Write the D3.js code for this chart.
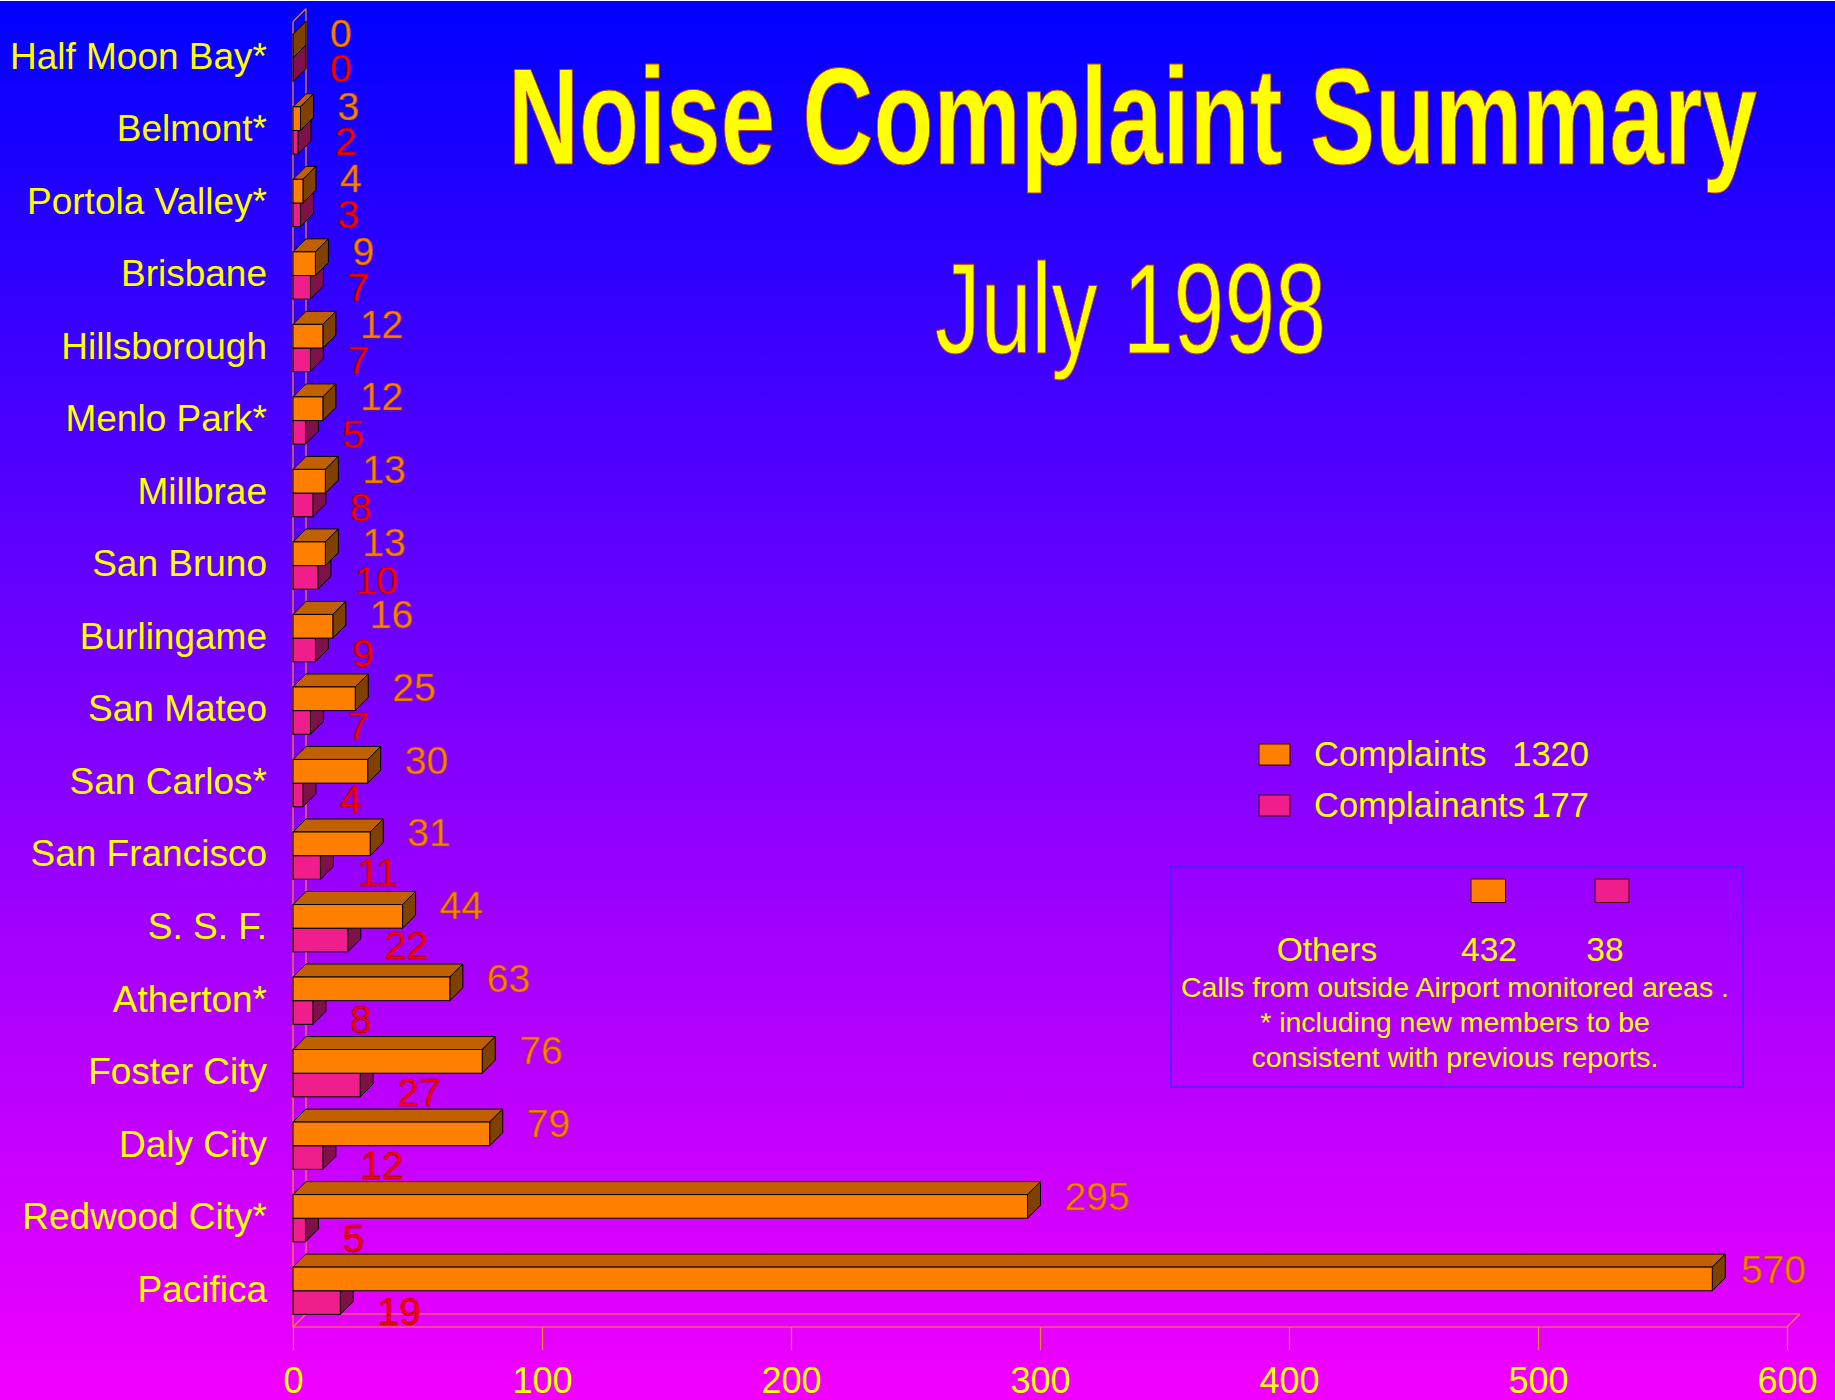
<!DOCTYPE html>
<html>
<head>
<meta charset="utf-8">
<title>Noise Complaint Summary</title>
<script src="https://d3js.org/d3.v7.min.js"></script>
<style>
  body { margin: 0; background: #0000ff; }
  svg { display: block; font-family: "Liberation Sans", Arial, sans-serif; }
</style>
</head>
<body>
<div id="chart"></div>
<script>
// data, top to bottom
var cities = ["Half Moon Bay*", "Belmont*", "Portola Valley*", "Brisbane", "Hillsborough",
  "Menlo Park*", "Millbrae", "San Bruno", "Burlingame", "San Mateo", "San Carlos*",
  "San Francisco", "S. S. F.", "Atherton*", "Foster City", "Daly City", "Redwood City*", "Pacifica"];
var complaints   = [0, 3, 4, 9, 12, 12, 13, 13, 16, 25, 30, 31, 44, 63, 76, 79, 295, 570];
var complainants = [0, 2, 3, 7, 7, 5, 8, 10, 9, 7, 4, 11, 22, 8, 27, 12, 5, 19];
var xTicks = [0, 100, 200, 300, 400, 500, 600];

var legendNames  = ["Complaints", "Complainants"];
var legendTotals = [1320, 177];
var othersRow    = ["Others", "432", "38"];
var notes = ["Calls from outside Airport monitored areas .",
             "* including new members to be",
             "consistent with previous reports."];

var width = 1835, height = 1400;
var depth = 13;

var svg = d3.select("#chart").append("svg")
  .attr("width", width)
  .attr("height", height);

// background gradient blue -> magenta
var grad = svg.append("defs").append("linearGradient")
  .attr("id", "bg").attr("x1", 0).attr("y1", 0).attr("x2", 0).attr("y2", 1);
grad.append("stop").attr("offset", "0%").attr("stop-color", "#0000ff");
grad.append("stop").attr("offset", "100%").attr("stop-color", "#f200ff");
svg.append("rect").attr("width", width).attr("height", height).attr("fill", "url(#bg)");
svg.append("line").attr("x1", 0).attr("x2", width).attr("y1", 0.5).attr("y2", 0.5)
  .attr("stroke", "#ffffff").attr("stroke-width", 1);

// scales
var x = d3.scaleLinear().domain([0, 600]).range([293, 1787]);
var y = d3.scaleBand().domain(cities).range([21.7, 1327]);
var inner = d3.scaleBand().domain(["complaints", "complainants"])
  .range([12.6, y.bandwidth() - 12.6]);
// value labels sit on their own rows (as in the original export)
var labelY = {
  complaints:   d3.scalePoint().domain(cities).range([33, 1268.5]),
  complainants: d3.scalePoint().domain(cities).range([68, 1311])
};

// walls / floor
var axisColor = "#ff8c1a";
var frame = svg.append("g").attr("stroke", axisColor).attr("stroke-width", 1.2).attr("fill", "none");
var x0 = x(0), xMax = x(600), yTop = y.range()[0], yBot = y.range()[1];
frame.append("line").attr("x1", x0 + depth).attr("x2", x0 + depth).attr("y1", yTop - depth).attr("y2", yBot - depth);
frame.append("line").attr("x1", x0).attr("x2", x0).attr("y1", yTop).attr("y2", yBot);
frame.append("line").attr("x1", x0).attr("x2", x0 + depth).attr("y1", yTop).attr("y2", yTop - depth);
frame.append("line").attr("x1", x0 + depth).attr("x2", xMax + depth).attr("y1", yBot - depth).attr("y2", yBot - depth);
frame.append("line").attr("x1", x0).attr("x2", xMax).attr("y1", yBot).attr("y2", yBot);
frame.append("line").attr("x1", x0).attr("x2", x0 + depth).attr("y1", yBot).attr("y2", yBot - depth);
frame.append("line").attr("x1", xMax).attr("x2", xMax + depth).attr("y1", yBot).attr("y2", yBot - depth);

// x axis
var xAxis = svg.append("g")
  .attr("transform", "translate(0," + yBot + ")")
  .call(d3.axisBottom(x).tickValues(xTicks).tickSize(23).tickPadding(17));
xAxis.select(".domain").remove();
xAxis.selectAll("line").attr("stroke", axisColor).attr("stroke-width", 1.2);
xAxis.selectAll("text").attr("fill", "#ffff00").attr("font-size", 36)
  .attr("font-family", "Liberation Sans, Arial, sans-serif");

// y axis (city names)
var yAxis = svg.append("g")
  .attr("transform", "translate(" + x0 + ",-1)")
  .call(d3.axisLeft(y).tickSize(0).tickPadding(26));
yAxis.select(".domain").remove();
yAxis.selectAll("text").attr("fill", "#ffff00").attr("font-size", 37)
  .attr("font-family", "Liberation Sans, Arial, sans-serif");

// 3D bars
var styles = {
  complaints:   { front: "#ff8000", top: "#c06000", side: "#804000", label: "#ff8000", labelStroke: "#a04a00" },
  complainants: { front: "#f01e8c", top: "#a01060", side: "#80104a", label: "#ff0000", labelStroke: "#8a0000" }
};

function bar3d(g, xa, xb, yy, h, s) {
  g.append("polygon")
    .attr("points", [[xa, yy], [xa + depth, yy - depth], [xb + depth, yy - depth], [xb, yy]].join(" "))
    .attr("fill", s.top).attr("stroke", "#000").attr("stroke-width", 1);
  g.append("polygon")
    .attr("points", [[xb, yy], [xb + depth, yy - depth], [xb + depth, yy + h - depth], [xb, yy + h]].join(" "))
    .attr("fill", s.side).attr("stroke", "#000").attr("stroke-width", 1);
  if (xb > xa) {
    g.append("rect").attr("x", xa).attr("y", yy).attr("width", xb - xa).attr("height", h)
      .attr("fill", s.front).attr("stroke", "#000").attr("stroke-width", 1);
  }
}

var bars = svg.append("g");
var labels = svg.append("g").attr("font-size", 39);

cities.forEach(function(c, i) {
  var series = [
    { key: "complainants", v: complainants[i] },
    { key: "complaints", v: complaints[i] }
  ];
  series.forEach(function(d) {
    var yy = y(c) + inner(d.key);
    bar3d(bars, x(0), x(d.v), yy, inner.bandwidth(), styles[d.key]);
  });
  series.forEach(function(d) {
    var t = labels.append("text")
      .attr("x", x(d.v) + 37)
      .attr("y", labelY[d.key](c) + 14)
      .attr("fill", styles[d.key].label)
      .attr("stroke", styles[d.key].labelStroke)
      .attr("stroke-width", 0.6)
      .text(d.v);
    var w = t.node().getComputedTextLength();
    if (x(d.v) + 37 + w > 1806) t.attr("x", 1806 - w);
  });
});

// titles
svg.append("text")
  .attr("x", 508).attr("y", 164)
  .attr("font-size", 138).attr("font-weight", "bold")
  .attr("textLength", 1249).attr("lengthAdjust", "spacingAndGlyphs")
  .attr("fill", "#ffff00").attr("stroke", "#c04000").attr("stroke-width", 1)
  .text("Noise Complaint Summary");
svg.append("text")
  .attr("x", 935).attr("y", 353)
  .attr("font-size", 128)
  .attr("textLength", 391).attr("lengthAdjust", "spacingAndGlyphs")
  .attr("fill", "#ffff00").attr("stroke", "#c04000").attr("stroke-width", 1)
  .text("July 1998");

// legend
var legendColors = [styles.complaints.front, styles.complainants.front];
var lg = svg.append("g").attr("font-size", 34.5).attr("fill", "#ffff00");
legendNames.forEach(function(n, i) {
  var by = 766 + i * 51;
  lg.append("rect").attr("x", 1259).attr("y", by - 22).attr("width", 31).attr("height", 21)
    .attr("fill", legendColors[i]).attr("stroke", "#400000").attr("stroke-width", 1);
  lg.append("text").attr("x", 1314).attr("y", by).text(n);
  lg.append("text").attr("x", 1589).attr("y", by).attr("text-anchor", "end").text(legendTotals[i]);
});

// others box
var box = svg.append("g").attr("fill", "#ffff00");
box.append("rect").attr("x", 1171).attr("y", 867).attr("width", 572).attr("height", 220)
  .attr("fill", "none").attr("stroke", "#3c28ff").attr("stroke-width", 1.5);
var colX = [1327, 1489, 1605];
box.append("rect").attr("x", 1471).attr("y", 879).attr("width", 34.5).attr("height", 23.5)
  .attr("fill", legendColors[0]).attr("stroke", "#400000");
box.append("rect").attr("x", 1595).attr("y", 879).attr("width", 34).attr("height", 23.5)
  .attr("fill", legendColors[1]).attr("stroke", "#400000");
othersRow.forEach(function(t, i) {
  box.append("text").attr("x", colX[i]).attr("y", 961).attr("text-anchor", "middle")
    .attr("font-size", 33.5).text(t);
});
notes.forEach(function(t, i) {
  box.append("text").attr("x", 1455).attr("y", 997 + i * 35).attr("text-anchor", "middle")
    .attr("font-size", 28.5).text(t);
});
</script>
</body>
</html>
